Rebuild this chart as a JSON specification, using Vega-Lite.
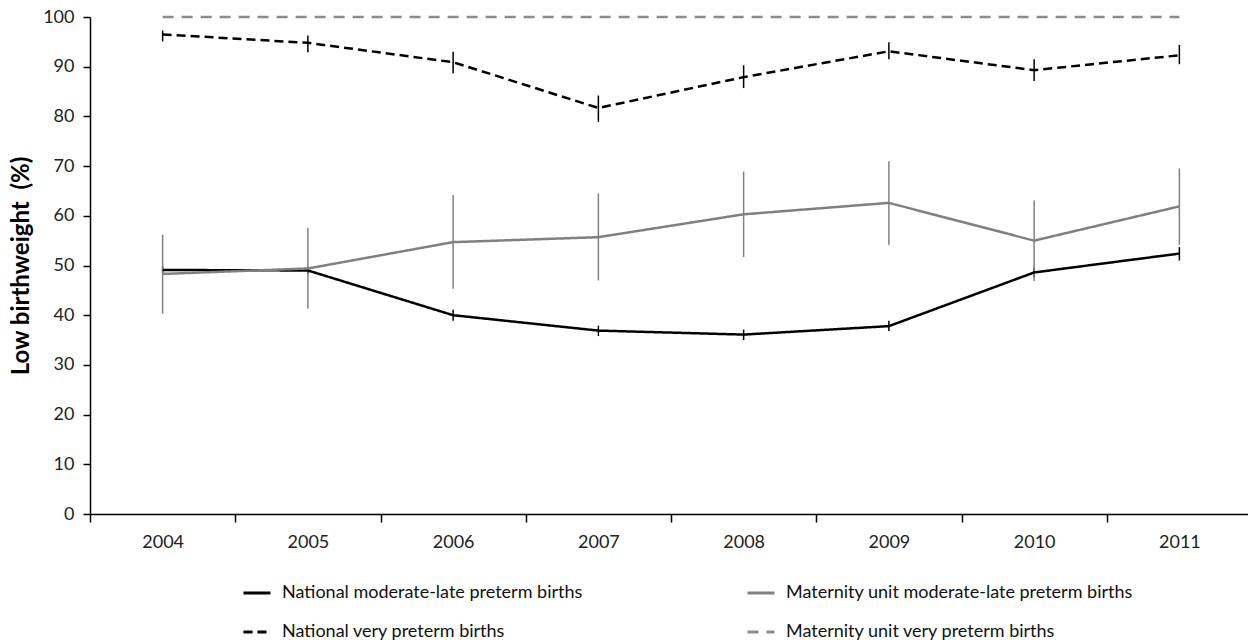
{
  "$schema": "https://vega.github.io/schema/vega-lite/v6.json",
  "autosize": {"type": "none"},
  "padding": {"left": 90, "top": 17, "right": 0, "bottom": 126},
  "width": 1162,
  "height": 497,
  "background": "white",
  "config": {
    "view": {"stroke": null},
    "font": "Lato",
    "axis": {"labelFont": "Lato", "titleFont": "Lato", "domainColor": "#000", "tickColor": "#000", "labelColor": "#222", "grid": false, "labelFontSize": 18, "domainWidth": 1.5, "tickWidth": 1.5}
  },
  "data": {"values": [
    {"series": "National moderate-late preterm births", "year": "2004", "v": 49.1, "lo": 48.4, "hi": 49.8},
    {"series": "National moderate-late preterm births", "year": "2005", "v": 49.0, "lo": 48.3, "hi": 49.7},
    {"series": "National moderate-late preterm births", "year": "2006", "v": 40.0, "lo": 38.9, "hi": 41.1},
    {"series": "National moderate-late preterm births", "year": "2007", "v": 36.9, "lo": 35.8, "hi": 37.9},
    {"series": "National moderate-late preterm births", "year": "2008", "v": 36.1, "lo": 35.0, "hi": 37.1},
    {"series": "National moderate-late preterm births", "year": "2009", "v": 37.8, "lo": 36.8, "hi": 38.9},
    {"series": "National moderate-late preterm births", "year": "2010", "v": 48.6, "lo": 47.6, "hi": 49.6},
    {"series": "National moderate-late preterm births", "year": "2011", "v": 52.4, "lo": 51.0, "hi": 53.7},
    {"series": "Maternity unit moderate-late preterm births", "year": "2004", "v": 48.3, "lo": 40.3, "hi": 56.2},
    {"series": "Maternity unit moderate-late preterm births", "year": "2005", "v": 49.4, "lo": 41.3, "hi": 57.6},
    {"series": "Maternity unit moderate-late preterm births", "year": "2006", "v": 54.7, "lo": 45.3, "hi": 64.2},
    {"series": "Maternity unit moderate-late preterm births", "year": "2007", "v": 55.7, "lo": 47.0, "hi": 64.5},
    {"series": "Maternity unit moderate-late preterm births", "year": "2008", "v": 60.3, "lo": 51.7, "hi": 68.9},
    {"series": "Maternity unit moderate-late preterm births", "year": "2009", "v": 62.6, "lo": 54.1, "hi": 71.0},
    {"series": "Maternity unit moderate-late preterm births", "year": "2010", "v": 55.0, "lo": 46.9, "hi": 63.1},
    {"series": "Maternity unit moderate-late preterm births", "year": "2011", "v": 61.9, "lo": 54.2, "hi": 69.5},
    {"series": "National very preterm births", "year": "2004", "v": 96.5, "lo": 95.1, "hi": 97.3},
    {"series": "National very preterm births", "year": "2005", "v": 94.8, "lo": 92.9, "hi": 96.3},
    {"series": "National very preterm births", "year": "2006", "v": 90.9, "lo": 88.7, "hi": 93.0},
    {"series": "National very preterm births", "year": "2007", "v": 81.7, "lo": 78.9, "hi": 84.2},
    {"series": "National very preterm births", "year": "2008", "v": 87.9, "lo": 85.7, "hi": 90.3},
    {"series": "National very preterm births", "year": "2009", "v": 93.1, "lo": 91.5, "hi": 94.9},
    {"series": "National very preterm births", "year": "2010", "v": 89.3, "lo": 87.1, "hi": 91.5},
    {"series": "National very preterm births", "year": "2011", "v": 92.3, "lo": 90.5, "hi": 94.4},
    {"series": "Maternity unit very preterm births", "year": "2004", "v": 100},
    {"series": "Maternity unit very preterm births", "year": "2005", "v": 100},
    {"series": "Maternity unit very preterm births", "year": "2006", "v": 100},
    {"series": "Maternity unit very preterm births", "year": "2007", "v": 100},
    {"series": "Maternity unit very preterm births", "year": "2008", "v": 100},
    {"series": "Maternity unit very preterm births", "year": "2009", "v": 100},
    {"series": "Maternity unit very preterm births", "year": "2010", "v": 100},
    {"series": "Maternity unit very preterm births", "year": "2011", "v": 100}
  ]},
  "encoding": {
    "x": {"field": "year", "type": "ordinal", "scale": {"paddingInner": 0, "paddingOuter": 0},
      "axis": {"title": null, "labelAngle": 0, "tickBand": "extent", "labelPadding": 11, "tickSize": 8}}
  },
  "layer": [
    {
      "mark": {"type": "rule", "strokeWidth": 1.5},
      "encoding": {
        "y": {"field": "lo", "type": "quantitative", "scale": {"domain": [0, 100], "nice": false},
          "axis": {"title": "Low birthweight\u00a0 (%)", "titleFontSize": 24, "titleFontWeight": "bold", "titleColor": "#000", "titlePadding": 9, "values": [0,10,20,30,40,50,60,70,80,90,100], "labelOverlap": false, "labelPadding": 9, "tickSize": 7}},
        "y2": {"field": "hi"},
        "color": {"field": "series", "type": "nominal",
          "scale": {"domain": ["National moderate-late preterm births", "Maternity unit moderate-late preterm births", "National very preterm births", "Maternity unit very preterm births"], "range": ["#000000", "#808080", "#000000", "#8c8c8c"]},
          "legend": {"title": null, "orient": "none", "direction": "horizontal", "legendX": 152, "legendY": 561, "columns": 2, "columnPadding": 158, "rowPadding": 15, "labelFontSize": 18, "labelColor": "#111", "labelFont": "Lato", "symbolType": "stroke", "symbolSize": 729, "symbolStrokeWidth": 3, "labelOffset": 10, "labelLimit": 500}}
      }
    },
    {
      "mark": {"type": "line", "strokeWidth": 2.5},
      "encoding": {
        "y": {"field": "v", "type": "quantitative", "scale": {"domain": [0, 100], "nice": false},
          "axis": {"title": "Low birthweight\u00a0 (%)", "titleFontSize": 24, "titleFontWeight": "bold", "titleColor": "#000", "titlePadding": 9, "values": [0,10,20,30,40,50,60,70,80,90,100], "labelOverlap": false, "labelPadding": 9, "tickSize": 7}},
        "color": {"field": "series", "type": "nominal",
          "scale": {"domain": ["National moderate-late preterm births", "Maternity unit moderate-late preterm births", "National very preterm births", "Maternity unit very preterm births"], "range": ["#000000", "#808080", "#000000", "#8c8c8c"]},
          "legend": {"title": null, "orient": "none", "direction": "horizontal", "legendX": 152, "legendY": 561, "columns": 2, "columnPadding": 158, "rowPadding": 15, "labelFontSize": 18, "labelColor": "#111", "labelFont": "Lato", "symbolType": "stroke", "symbolSize": 729, "symbolStrokeWidth": 3, "labelOffset": 10, "labelLimit": 500}},
        "strokeDash": {"field": "series", "type": "nominal",
          "scale": {"domain": ["National moderate-late preterm births", "Maternity unit moderate-late preterm births", "National very preterm births", "Maternity unit very preterm births"], "range": [[1, 0], [1, 0], [9, 5], [11, 8]]}}
      }
    }
  ]
}
